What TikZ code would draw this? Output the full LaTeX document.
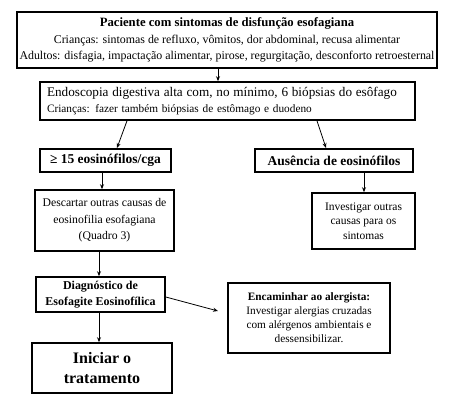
\documentclass[tikz,border=0pt]{standalone}
\usepackage{fontspec}
\setmainfont{Liberation Serif}
\usetikzlibrary{arrows.meta}
\begin{document}
\begin{tikzpicture}[x=1pt,y=-1pt,
                    box/.style={draw,line width=1.6pt,inner sep=0pt,align=center},
                    flow/.style={-{Stealth[length=5pt,width=4pt]},line width=0.8pt}]
                        \useasboundingbox (0,0) rectangle (453,400);

                        % Symptoms
                        \node[box,minimum width=420,minimum height=56,font=\fontsize{11.9}{16.5}\selectfont] (sint) at (227,40)
                            {{\bfseries\fontsize{12.7}{16.5}\selectfont Paciente com sintomas de disfunção esofagiana}\\
                             Crianças: sintomas de refluxo, vômitos, dor abdominal, recusa alimentar\\
                             Adultos: disfagia, impactação alimentar, pirose, regurgitação, desconforto retroesternal};

                        % Endoscopy
                        \node[box,minimum width=375,minimum height=38,align=left,text width=361,font=\fontsize{11.3}{16.5}\selectfont] (endo) at (227.5,101)
                            {{\fontsize{13.2}{16.5}\selectfont Endoscopia digestiva alta com, no mínimo, 6 biópsias do esôfago}\\
                             Crianças: fazer também biópsias de estômago e duodeno};

                        % Results
                        \node[box,minimum width=131,minimum height=23,font=\bfseries\fontsize{13.5}{15}\selectfont] (eos) at (105.5,160.5) {≥ 15 eosinófilos/cga};
                        \node[box,minimum width=158,minimum height=23,font=\bfseries\fontsize{13.5}{15}\selectfont] (aus) at (334,160.5) {Ausência de eosinófilos};

                        % Next steps
                        \node[box,minimum width=139,minimum height=61,font=\fontsize{11.7}{16.5}\selectfont] (desc) at (104.5,220.5)
                            {Descartar outras causas de\\ eosinofilia esofagiana\\ (Quadro 3)};
                        \node[box,minimum width=103,minimum height=56,font=\fontsize{11.5}{14.5}\selectfont] (inv) at (363.5,221)
                            {Investigar outras\\ causas para os\\ sintomas};

                        % Diagnosis
                        \node[box,minimum width=129,minimum height=35,font=\bfseries\fontsize{12}{15.5}\selectfont] (diag) at (100.5,294.5)
                            {Diagnóstico de\\ Esofagite Eosinofílica};
                        \node[box,minimum width=140,minimum height=50,font=\bfseries\fontsize{16}{20}\selectfont] (trat) at (102,368)
                            {Iniciar o\\ tratamento};
                        \node[box,minimum width=162,minimum height=70,font=\fontsize{11.3}{14}\selectfont] (alerg) at (309,318)
                            {{\bfseries Encaminhar ao alergista:}\\
                             Investigar alergias cruzadas\\ com alérgenos ambientais e\\ dessensibilizar.};

                        % Arrows
                        \draw[flow] (sint.south -| 218,0) -- (endo.north -| 218,0);
                        \draw[flow] (endo.south -| 127,0) -- (117,148);
                        \draw[flow] (endo.south -| 317,0) -- (326,148);
                        \draw[flow] (eos.south -| 102,0) -- (desc.north -| 102,0);
                        \draw[flow] (aus.south -| 364,0) -- (inv.north -| 364,0);
                        \draw[flow] (desc.south -| 99,0) -- (diag.north -| 99,0);
                        \draw[flow] (diag.south -| 99,0) -- (trat.north -| 99,0);
                        \draw[flow] (diag.east |- 0,297) -- (218,311);
                    \end{tikzpicture}
\end{document}
